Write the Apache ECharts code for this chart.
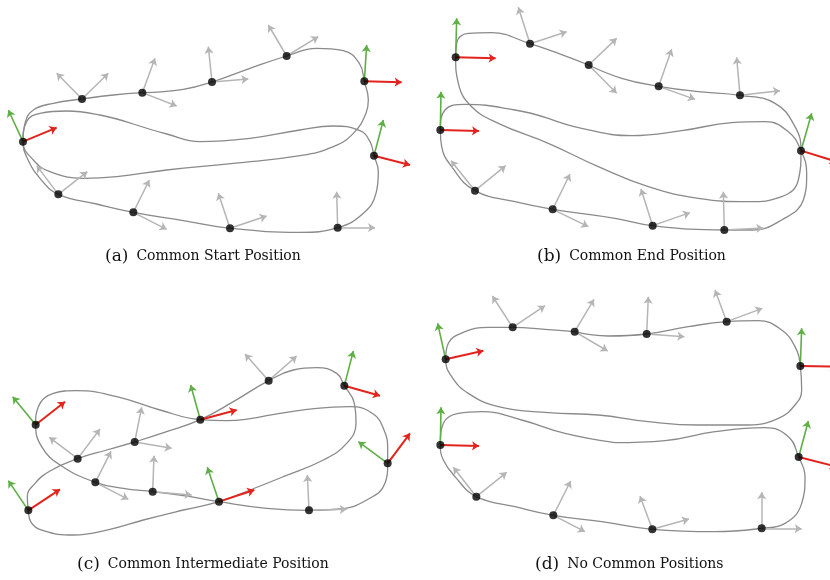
<!DOCTYPE html>
<html><head><meta charset="utf-8">
<script src="https://cdn.jsdelivr.net/npm/echarts@6/dist/echarts.min.js"></script>
<style>html,body{margin:0;padding:0;background:#fff}#c{width:830px;height:580px}</style>
</head><body><div id="c"></div>
<script>
// Panel coordinates are read in a 3x-scaled frame of each 415x240 panel (x 0..1245, y 0..720, y down)
// ---- Panel (a) ----
const a_curve1 = [[427,278],[550,268],[636,246],[750,205],[860,168],[950,145],[1030,152],[1078,190],[1093,244],[1105,300],[1098,340],[1060,400],[1000,440],[900,467],[700,490],[500,510],[350,530],[250,535],[150,515],[100,480],[69,425],[75,370],[100,330],[160,310],[246,297],[340,285],[427,278]];
const a_curve2 = [[400,372],[500,402],[600,425],[750,415],[900,390],[1000,378],[1080,392],[1110,425],[1122,467],[1135,515],[1128,580],[1090,640],[1013,683],[900,697],[690,685],[550,662],[400,637],[290,612],[175,583],[120,535],[82,475],[69,425],[80,365],[120,340],[200,333],[300,345],[400,372]];
const a_points = [[69,425],[246,297],[427,278],[636,246],[860,168],[1093,244],[1122,467],[175,583],[400,637],[690,685],[1013,683]];
const a_gray = [[[246,297],[170,220]],[[246,297],[325,220]],[[427,278],[465,175]],[[427,278],[530,318]],[[636,246],[625,140]],[[636,246],[745,237]],[[860,168],[805,75]],[[860,168],[955,110]],[[175,583],[110,497]],[[175,583],[262,515]],[[400,637],[448,540]],[[400,637],[500,688]],[[690,685],[655,580]],[[690,685],[800,648]],[[1013,683],[1010,575]],[[1013,683],[1125,683]]];
const a_green = [[[69,425],[25,330]],[[1093,244],[1100,135]],[[1122,467],[1150,360]]];
const a_red = [[[69,425],[170,383]],[[1093,244],[1205,247]],[[1122,467],[1230,495]]];
// ---- Panel (b) ----
const b_curve1 = [[521,195],[620,235],[731,259],[850,275],[975,286],[1080,310],[1140,380],[1158,452],[1150,540],[1100,590],[1000,605],[850,595],[700,560],[550,500],[400,430],[250,370],[170,320],[130,250],[122,172],[125,130],[160,100],[230,98],[345,131],[430,160],[521,195]];
const b_curve2 = [[400,355],[500,385],[650,407],[800,392],[950,368],[1050,365],[1120,395],[1158,452],[1175,520],[1165,600],[1100,660],[1010,690],[928,690],[713,677],[600,655],[413,628],[300,605],[180,572],[110,500],[80,440],[76,390],[90,330],[150,313],[300,330],[400,355]];
const b_points = [[122,172],[345,131],[521,195],[731,259],[975,286],[1158,452],[76,390],[180,572],[413,628],[713,677],[928,690]];
const b_gray = [[[345,131],[310,22]],[[345,131],[455,95]],[[521,195],[605,115]],[[521,195],[605,280]],[[731,259],[770,148]],[[731,259],[840,298]],[[975,286],[965,172]],[[975,286],[1095,272]],[[180,572],[108,482]],[[180,572],[272,497]],[[413,628],[465,522]],[[413,628],[520,680]],[[713,677],[678,567]],[[713,677],[825,638]],[[928,690],[925,575]],[[928,690],[1045,684]]];
const b_green = [[[122,172],[125,55]],[[1158,452],[1190,340]],[[76,390],[78,275]]];
const b_red = [[[122,172],[242,175]],[[1158,452],[1265,485]],[[76,390],[192,393]]];
// ---- Panel (c) ----
const c_curve1 = [[404,456],[500,425],[601,389],[700,335],[806,272],[880,240],[950,233],[1010,250],[1033,287],[1063,340],[1068,400],[1040,460],[970,510],[850,560],[750,600],[657,635],[550,660],[430,690],[330,718],[220,735],[130,722],[92,695],[85,661],[82,620],[105,580],[150,543],[233,506],[320,480],[404,456]];
const c_curve2 = [[800,377],[950,355],[1050,350],[1120,372],[1152,420],[1163,475],[1163,520],[1155,580],[1100,630],[1020,657],[927,661],[800,655],[657,635],[550,617],[458,605],[370,595],[286,577],[180,525],[125,470],[107,404],[115,350],[160,310],[230,302],[350,320],[480,360],[601,389],[680,392],[800,377]];
const c_points = [[107,404],[233,506],[404,456],[601,389],[806,272],[1033,287],[1163,520],[286,577],[458,605],[657,635],[927,661],[85,661]];
const c_gray = [[[233,506],[148,442]],[[233,506],[300,417]],[[404,456],[425,352]],[[404,456],[515,475]],[[806,272],[735,192]],[[806,272],[890,198]],[[286,577],[333,484]],[[286,577],[385,628]],[[458,605],[462,497]],[[458,605],[575,615]],[[927,661],[922,555]],[[927,661],[1040,658]]];
const c_green = [[[107,404],[38,320]],[[601,389],[572,285]],[[1033,287],[1060,183]],[[1163,520],[1075,455]],[[657,635],[622,532]],[[85,661],[25,572]]];
const c_red = [[[107,404],[195,335]],[[601,389],[710,360]],[[1033,287],[1140,317]],[[1163,520],[1230,430]],[[657,635],[763,600]],[[85,661],[180,598]]];
// ---- Panel (d) ----
const d_curve1 = [[479,125],[580,138],[695,132],[820,110],[935,95],[1030,92],[1100,120],[1140,170],[1156,228],[1160,300],[1140,345],[1090,385],[1000,405],[850,405],[700,395],[550,375],[400,368],[250,350],[160,310],[110,260],[92,208],[100,160],[150,125],[220,112],[293,112],[390,118],[479,125]];
const d_curve2 = [[600,458],[750,452],[900,425],[1050,413],[1120,440],[1151,501],[1170,560],[1160,640],[1110,700],[1040,715],[900,725],[712,718],[560,695],[415,676],[300,650],[184,620],[120,560],[85,510],[76,465],[85,400],[130,370],[200,365],[320,390],[450,430],[600,458]];
const d_points = [[92,208],[293,112],[479,125],[695,132],[935,95],[1156,228],[76,465],[1151,501],[184,620],[415,676],[712,718],[1040,715]];
const d_gray = [[[293,112],[232,18]],[[293,112],[390,47]],[[479,125],[537,28]],[[479,125],[578,183]],[[695,132],[700,20]],[[695,132],[808,140]],[[935,95],[900,0]],[[935,95],[1042,55]],[[184,620],[115,532]],[[184,620],[275,547]],[[415,676],[467,573]],[[415,676],[510,725]],[[712,718],[675,618]],[[712,718],[822,687]],[[1040,715],[1040,607]],[[1040,715],[1160,716]]];
const d_green = [[[92,208],[68,100]],[[1156,228],[1160,115]],[[76,465],[78,352]],[[1151,501],[1180,393]]];
const d_red = [[[92,208],[205,182]],[[1156,228],[1265,230]],[[76,465],[192,468]],[[1151,501],[1265,530]]];
// ---- Captions ----
const labels = ['(a)','(b)','(c)','(d)'];
const captions = ['Common Start Position','Common End Position','Common Intermediate Position','No Common Positions'];

const panels = [
  {curves:[a_curve1,a_curve2], pts:a_points, gray:a_gray, green:a_green, red:a_red},
  {curves:[b_curve1,b_curve2], pts:b_points, gray:b_gray, green:b_green, red:b_red},
  {curves:[c_curve1,c_curve2], pts:c_points, gray:c_gray, green:c_green, red:c_red},
  {curves:[d_curve1,d_curve2], pts:d_points, gray:d_gray, green:d_green, red:d_red}
];
const gridPos = [[0,0],[415,0],[0,290],[415,290]];
const capPos = [[105,248],[537,248],[77,556],[535,556]];

const grid=[], xAxis=[], yAxis=[], series=[], title=[];
panels.forEach((p,i)=>{
  grid.push({left:gridPos[i][0], top:gridPos[i][1], width:415, height:240});
  xAxis.push({type:'value', gridIndex:i, min:0, max:1245, show:false});
  yAxis.push({type:'value', gridIndex:i, min:0, max:720, inverse:true, show:false});
  p.curves.forEach(c=>series.push({type:'line', xAxisIndex:i, yAxisIndex:i, data:c, smooth:0.45,
    symbol:'none', showSymbol:false, clip:false, silent:true,
    lineStyle:{color:'#8a8a8a', width:1.3}, z:1}));
  [[p.gray,'#b5b5b5',1.5],[p.green,'#5fae46',1.6],[p.red,'#e2241d',2]].forEach(([arr,col,w],k)=>{
    series.push({type:'lines', coordinateSystem:'cartesian2d', xAxisIndex:i, yAxisIndex:i,
      data:arr.map(s=>({coords:s})), symbol:['none','arrow'], symbolSize:7, clip:false, silent:true,
      lineStyle:{color:col, width:w, opacity:1, curveness:0}, z:2+k});
  });
  series.push({type:'scatter', xAxisIndex:i, yAxisIndex:i, data:p.pts, symbolSize:8, clip:false, silent:true,
    itemStyle:{color:'#000'}, z:6});
  title.push({left:capPos[i][0], top:capPos[i][1], padding:0,
    text:'{l|'+labels[i]+'}{t|'+captions[i]+'}',
    textStyle:{rich:{
      l:{fontFamily:'DejaVu Serif', fontSize:17, color:'#111', fontWeight:'normal', padding:[0,8,0,0]},
      t:{fontFamily:'DejaVu Serif', fontSize:14, color:'#111', fontWeight:'normal'}
    }}});
});

const chart = echarts.init(document.getElementById('c'), null, {renderer:'canvas'});
chart.setOption({animation:false, backgroundColor:'#fff', title, grid, xAxis, yAxis, series});
</script></body></html>
